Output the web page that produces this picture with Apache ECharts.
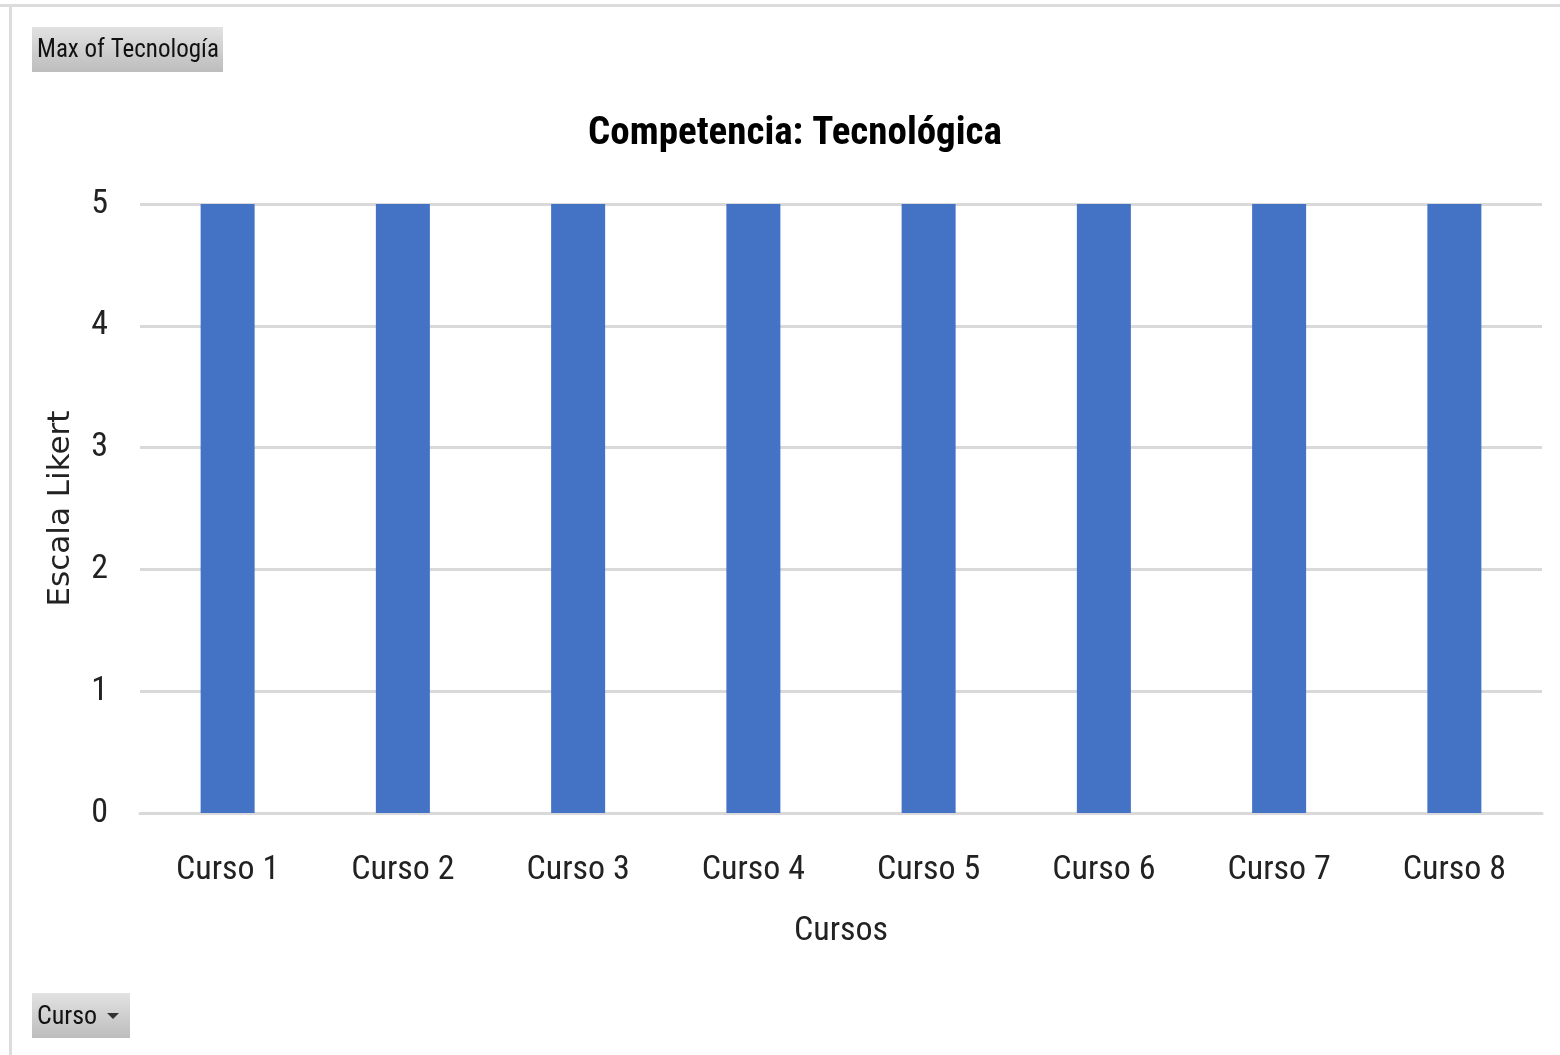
<!DOCTYPE html>
<html>
<head>
    <meta charset="utf-8">
    <title>Competencia: Tecnológica</title>
    <script src="https://cdn.jsdelivr.net/npm/echarts@6/dist/echarts.min.js"></script>
</head>
<body style="margin:0; background:#fff">
<div id="container" style="width:1560px; height:1055px"></div>
<script type="text/javascript">
var cursos = ['Curso 1', 'Curso 2', 'Curso 3', 'Curso 4', 'Curso 5', 'Curso 6', 'Curso 7', 'Curso 8'];
var maxTecnologia = [5, 5, 5, 5, 5, 5, 5, 5];
var yTicks = [0, 1, 2, 3, 4, 5];

var narrow = '"Liberation Sans Narrow", "Roboto Condensed", "DejaVu Sans Condensed", sans-serif';
var myChart = echarts.init(document.getElementById('container'));

var option = {
    backgroundColor: '#fff',
    animation: false,
    title: {
        text: 'Competencia: Tecnológica',
        left: 790,
        top: 110,
        textAlign: 'center',
        textStyle: { fontFamily: narrow, fontSize: 39, fontWeight: 'bold', color: '#000' }
    },
    grid: { left: 140, right: 18, top: 204, bottom: 242 },
    xAxis: {
        type: 'category',
        data: cursos,
        name: 'Cursos',
        nameLocation: 'middle',
        nameGap: 101,
        nameTextStyle: { fontFamily: narrow, fontSize: 34, color: '#222' },
        axisLine: { lineStyle: { color: '#d9d9d9', width: 3 } },
        axisTick: { show: false },
        axisLabel: { fontFamily: narrow, fontSize: 34, color: '#222', margin: 40 }
    },
    yAxis: {
        type: 'value',
        min: yTicks[0],
        max: yTicks[yTicks.length - 1],
        interval: 1,
        name: 'Escala Likert',
        nameLocation: 'middle',
        nameGap: 64,
        nameTextStyle: { fontFamily: '"DejaVu Sans", Verdana, sans-serif', fontSize: 31, color: '#222' },
        axisLine: { show: false },
        axisTick: { show: false },
        axisLabel: { fontFamily: narrow, fontSize: 34, color: '#222', margin: 32 },
        splitLine: { lineStyle: { color: '#d9d9d9', width: 3 } }
    },
    series: [{
        name: 'Max of Tecnología',
        type: 'bar',
        data: maxTecnologia,
        barWidth: 54,
        itemStyle: { color: '#4472c4' }
    }],
    graphic: [
        { type: 'rect', shape: { x: 0, y: 4, width: 1560, height: 3 }, style: { fill: '#dcdcdc' } },
        { type: 'rect', shape: { x: 9, y: 4, width: 3, height: 1051 }, style: { fill: '#dcdcdc' } },
        {
            type: 'group', left: 32, top: 27,
            children: [
                { type: 'rect', shape: { x: 0, y: 0, width: 191, height: 45 },
                  style: { fill: new echarts.graphic.LinearGradient(0, 0, 0, 1, [{ offset: 0, color: '#e2e2e2' }, { offset: 1, color: '#bdbdbd' }]) } },
                { type: 'text', x: 5, y: 24, style: { text: 'Max of Tecnología', fontFamily: narrow, fontSize: 25, fill: '#111', verticalAlign: 'middle' } }
            ]
        },
        {
            type: 'group', left: 32, top: 993,
            children: [
                { type: 'rect', shape: { x: 0, y: 0, width: 98, height: 45 },
                  style: { fill: new echarts.graphic.LinearGradient(0, 0, 0, 1, [{ offset: 0, color: '#e2e2e2' }, { offset: 1, color: '#bdbdbd' }]) } },
                { type: 'text', x: 5, y: 24, style: { text: 'Curso', fontFamily: narrow, fontSize: 26, fill: '#111', verticalAlign: 'middle' } },
                { type: 'polygon', shape: { points: [[75, 20], [87, 20], [81, 26]] }, style: { fill: '#333' } }
            ]
        }
    ]
};
myChart.setOption(option);
</script>
</body>
</html>
